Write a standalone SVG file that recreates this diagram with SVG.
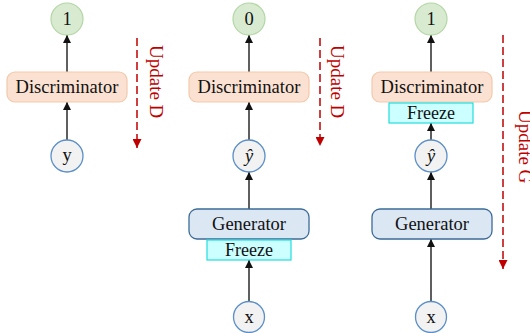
<svg xmlns="http://www.w3.org/2000/svg" width="530" height="333" viewBox="0 0 530 333">
<defs>
<marker id="ah" viewBox="0 0 10 10" refX="10" refY="5" markerWidth="8" markerHeight="8" markerUnits="userSpaceOnUse" orient="auto">
<path d="M0,0 L10,5 L0,10 z" fill="#111"/>
</marker>
<marker id="ahr" viewBox="0 0 10 10" refX="10" refY="5" markerWidth="9" markerHeight="9" markerUnits="userSpaceOnUse" orient="auto">
<path d="M0,0 L10,5 L0,10 z" fill="#c00000"/>
</marker>
<style>
text{font-family:"Liberation Serif","Times New Roman",serif;fill:#111;text-anchor:middle}
.out{fill:#d8ebd1;stroke:#b3d6a5;stroke-width:1.2}
.inp{fill:#f2f2f2;stroke:#5b8fc7;stroke-width:1.3}
.disc{fill:#fbe1d2;stroke:#f3c9ab;stroke-width:1.2}
.gen{fill:#dce7f4;stroke:#3d6b98;stroke-width:1.3}
.frz{fill:#ccffff;stroke:#22dddd;stroke-width:1.2}
.lbl{font-size:18.5px}
.fz{font-size:18px}
.conn line{stroke:#2a2a2a;stroke-width:1.5;marker-end:url(#ah)}
.upd line{stroke:#c00000;stroke-width:1.5;stroke-dasharray:8,4;marker-end:url(#ahr)}
.upd text{fill:#c00000;font-size:19px;text-anchor:start}
</style>
</defs>

<g id="connectors" class="conn">
<line x1="67" y1="140" x2="67" y2="102"/>
<line x1="67" y1="72" x2="67" y2="35"/>
<line x1="249" y1="301" x2="249" y2="260"/>
<line x1="249" y1="209" x2="249" y2="172"/>
<line x1="249" y1="140" x2="249" y2="102"/>
<line x1="249" y1="72" x2="249" y2="35"/>
<line x1="431" y1="301" x2="431" y2="239"/>
<line x1="431" y1="209" x2="431" y2="172"/>
<line x1="431" y1="140" x2="431" y2="123"/>
<line x1="431" y1="72" x2="431" y2="35"/>
</g>

<g id="update-arrows" class="upd">
<line x1="137" y1="38" x2="137" y2="148"/>
<line x1="320" y1="38" x2="320" y2="146"/>
<line x1="503" y1="35" x2="503" y2="269"/>
<text transform="translate(150,45) rotate(90)">Update D</text>
<text transform="translate(331,45) rotate(90)">Update D</text>
<text transform="translate(519,110) rotate(90)">Update G</text>
</g>

<g id="p1-out"><circle class="out" cx="67" cy="19" r="16"/><text class="lbl" x="67" y="25">1</text></g>
<g id="p1-disc"><rect class="disc" x="7" y="72" width="120" height="30" rx="8"/><text class="lbl" x="67" y="93">Discriminator</text></g>
<g id="p1-y"><circle class="inp" cx="67" cy="156" r="16"/><text class="lbl" x="67" y="161">y</text></g>

<g id="p2-out"><circle class="out" cx="249" cy="19" r="16"/><text class="lbl" x="249" y="25">0</text></g>
<g id="p2-disc"><rect class="disc" x="189" y="72" width="120" height="30" rx="8"/><text class="lbl" x="249" y="93">Discriminator</text></g>
<g id="p2-yhat"><circle class="inp" cx="249" cy="156" r="16"/><text class="lbl" x="249" y="162" font-style="italic">ŷ</text></g>
<g id="p2-gen"><rect class="gen" x="189" y="209" width="120" height="30" rx="8"/><text class="lbl" x="249" y="230">Generator</text></g>
<g id="p2-freeze"><rect class="frz" x="207" y="240" width="84" height="20"/><text class="fz" x="249" y="256">Freeze</text></g>
<g id="p2-x"><circle class="inp" cx="249" cy="317" r="15.5"/><text class="lbl" x="249" y="323">x</text></g>

<g id="p3-out"><circle class="out" cx="431" cy="19" r="16"/><text class="lbl" x="431" y="25">1</text></g>
<g id="p3-disc"><rect class="disc" x="372" y="72" width="120" height="30" rx="8"/><text class="lbl" x="432" y="93">Discriminator</text></g>
<g id="p3-freeze"><rect class="frz" x="389" y="103" width="84" height="20"/><text class="fz" x="431" y="119">Freeze</text></g>
<g id="p3-yhat"><circle class="inp" cx="431" cy="156" r="16"/><text class="lbl" x="431" y="162" font-style="italic">ŷ</text></g>
<g id="p3-gen"><rect class="gen" x="372" y="209" width="120" height="30" rx="8"/><text class="lbl" x="432" y="230">Generator</text></g>
<g id="p3-x"><circle class="inp" cx="431" cy="317" r="15.5"/><text class="lbl" x="431" y="323">x</text></g>
</svg>
